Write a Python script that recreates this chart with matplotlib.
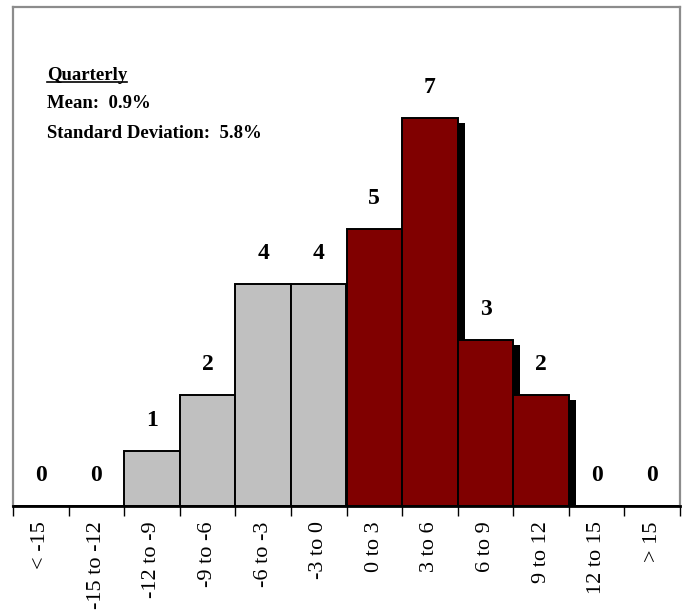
import matplotlib
matplotlib.use("Agg")
import matplotlib.pyplot as plt
from matplotlib.patches import Rectangle
import matplotlib.transforms as mtransforms

categories = ["< -15", "-15 to -12", "-12 to -9", "-9 to -6", "-6 to -3", "-3 to 0",
              "0 to 3", "3 to 6", "6 to 9", "9 to 12", "12 to 15", "> 15"]
counts = [0, 0, 1, 2, 4, 4, 5, 7, 3, 2, 0, 0]
bar_colors = ["#C0C0C0"] * 6 + ["#800000"] * 6

title_text = "Quarterly"
mean_text = "Mean:  0.9%"
std_text = "Standard Deviation:  5.8%"

plt.rcParams["font.family"] = ["Liberation Serif", "DejaVu Serif"]

fig = plt.figure(figsize=(6.84, 6.15), dpi=100)
ax = fig.add_axes([13 / 684, 1 - 506 / 615, 667 / 684, 499 / 615])

x = list(range(len(categories)))

# drop shadows, offset right and down behind every bar
shadow = mtransforms.offset_copy(ax.transData, fig=fig, x=7, y=-5, units="dots")
for xi, c in zip(x, counts):
    if c > 0:
        ax.add_patch(Rectangle((xi - 0.5, 0), 1.0, c, facecolor="black",
                               edgecolor="none", transform=shadow, zorder=1,
                               clip_on=True))

ax.bar(x, counts, width=1.0, color=bar_colors, edgecolor="black",
       linewidth=1.4, zorder=2)

for xi, c in zip(x, counts):
    ax.annotate(str(c), (xi, c), xytext=(0, 22), textcoords="offset points",
                ha="center", va="center", fontsize=17, fontweight="bold")

ax.set_xlim(-0.5, len(categories) - 0.5)
ax.set_ylim(0, 9)
ax.set_yticks([])

ax.set_xticks([i - 0.5 for i in range(len(categories) + 1)])
ax.set_xticklabels([])
ax.tick_params(axis="x", which="major", length=7, width=1.0, color="black")
ax.set_xticks(x, minor=True)
ax.set_xticklabels(categories, minor=True, rotation=90, fontsize=16,
                   va="top", ha="center")
ax.tick_params(axis="x", which="minor", length=0, pad=11)

for side in ["left", "top", "right"]:
    ax.spines[side].set_color("#8C8C8C")
    ax.spines[side].set_linewidth(1.6)
ax.spines["bottom"].set_color("black")
ax.spines["bottom"].set_linewidth(2.0)
ax.spines["bottom"].set_zorder(3)

# summary statistics block
t1 = fig.text(47 / 684, 1 - 75 / 615, title_text, fontsize=13.5,
              fontweight="bold", ha="left", va="center")
fig.text(47 / 684, 1 - 104 / 615, mean_text, fontsize=13.5,
         fontweight="bold", ha="left", va="center")
fig.text(47 / 684, 1 - 133 / 615, std_text, fontsize=13.5,
         fontweight="bold", ha="left", va="center")

fig.canvas.draw()
bb = t1.get_window_extent().transformed(fig.transFigure.inverted())
uy = bb.y0 + 2 / 615
fig.add_artist(plt.Line2D([bb.x0, bb.x1], [uy, uy], transform=fig.transFigure,
                          color="black", linewidth=1.2))

fig.savefig("out.png", dpi=100, facecolor="white")
